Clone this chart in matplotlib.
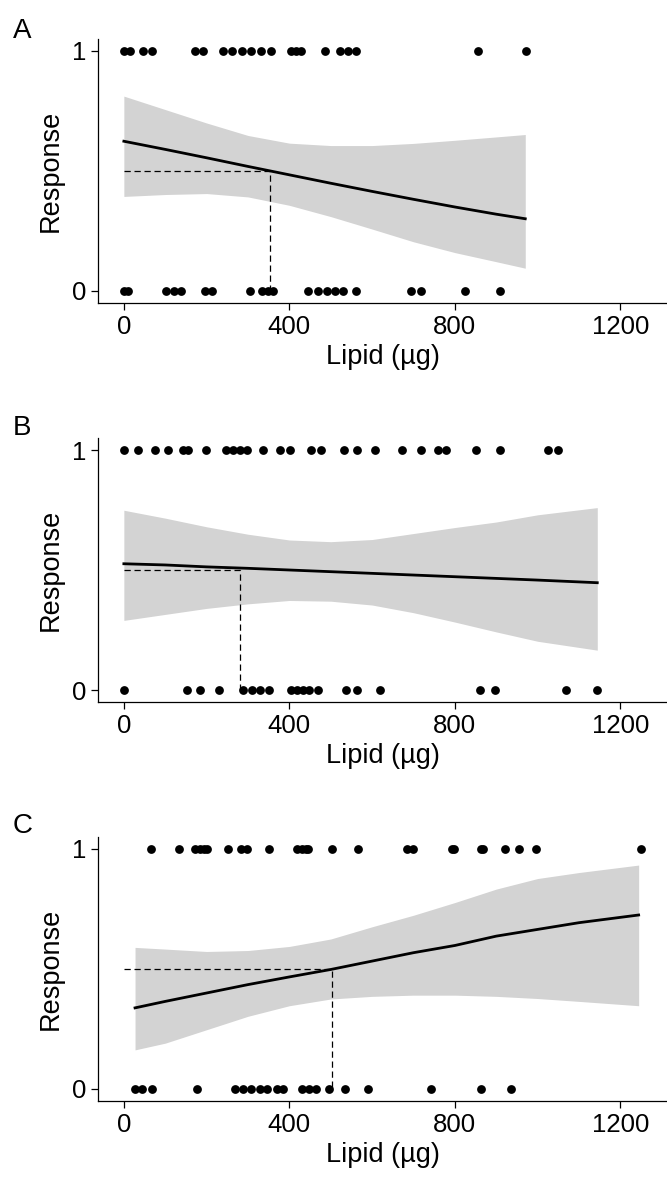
import numpy as np
import matplotlib.pyplot as plt

plt.rcParams['font.family'] = ['Liberation Sans', 'DejaVu Sans']

# ---- puntos observados (x = lipido, respuesta 0/1) ----
a_resp1 = [0, 15, 47, 68, 171, 192, 240, 262, 285, 308, 332, 355, 405, 415, 428,
           487, 522, 542, 560, 855, 972]
a_resp0 = [0, 10, 102, 120, 138, 197, 213, 306, 335, 348, 360, 444, 470, 490, 510,
           530, 560, 693, 719, 825, 908]

b_resp1 = [0, 33, 76, 107, 142, 156, 199, 247, 264, 280, 297, 336, 377, 402, 452,
           477, 533, 563, 608, 672, 717, 758, 779, 850, 908, 1024, 1050]
b_resp0 = [0, 152, 184, 230, 287, 310, 330, 350, 404, 418, 433, 448, 470, 537, 564,
           620, 861, 897, 1069, 1144]

c_resp1 = [66, 133, 173, 183, 193, 200, 252, 282, 297, 350, 418, 430, 440, 446, 503,
           566, 683, 699, 792, 798, 863, 868, 920, 955, 995, 1249]
c_resp0 = [28, 44, 67, 176, 269, 289, 308, 328, 345, 370, 385, 430, 447, 464, 495,
           535, 590, 742, 862, 936]

# ---- curva ajustada e intervalo ----
a_x = [0, 100, 200, 300, 400, 500, 600, 700, 800, 900, 970]
a_fit = [0.624, 0.590, 0.555, 0.519, 0.484, 0.449, 0.415, 0.382, 0.350, 0.320, 0.301]
a_upr = [0.812, 0.756, 0.700, 0.648, 0.616, 0.606, 0.606, 0.615, 0.628, 0.642, 0.652]
a_lwr = [0.394, 0.402, 0.406, 0.392, 0.357, 0.310, 0.258, 0.205, 0.160, 0.122, 0.095]

b_x = [0, 100, 200, 300, 400, 500, 600, 700, 800, 900, 1000, 1144]
b_fit = [0.526, 0.521, 0.513, 0.507, 0.500, 0.493, 0.486, 0.479, 0.472, 0.465, 0.458, 0.447]
b_upr = [0.749, 0.716, 0.680, 0.649, 0.625, 0.618, 0.627, 0.652, 0.677, 0.700, 0.730, 0.760]
b_lwr = [0.290, 0.315, 0.340, 0.359, 0.373, 0.370, 0.354, 0.322, 0.283, 0.242, 0.203, 0.166]

c_x = [27, 100, 200, 300, 400, 500, 600, 700, 800, 900, 1000, 1100, 1244]
c_fit = [0.338, 0.365, 0.400, 0.435, 0.467, 0.498, 0.533, 0.568, 0.598, 0.637, 0.665, 0.693, 0.725]
c_upr = [0.590, 0.583, 0.573, 0.577, 0.594, 0.625, 0.676, 0.724, 0.777, 0.833, 0.877, 0.902, 0.933]
c_lwr = [0.163, 0.191, 0.247, 0.303, 0.347, 0.375, 0.386, 0.391, 0.391, 0.386, 0.377, 0.365, 0.347]

# ---- dosis al 50 % ----
x50 = [354, 280, 502]

panel_letters = ['A', 'B', 'C']
x_ticks = [0, 400, 800, 1200]
y_ticks = [0, 1]

panels = [
    (a_resp1, a_resp0, a_x, a_fit, a_upr, a_lwr),
    (b_resp1, b_resp0, b_x, b_fit, b_upr, b_lwr),
    (c_resp1, c_resp0, c_x, c_fit, c_upr, c_lwr),
]

W, H = 667, 1178
fig = plt.figure(figsize=(W / 100, H / 100), dpi=100)

# posiciones en pixeles: (arriba) de cada eje, alto comun
ax_tops = [39, 438, 837]
ax_h = 264
ax_left, ax_right = 98, 667
letter_base = [38, 435, 833]

for i, (r1, r0, fx, fit, upr, lwr) in enumerate(panels):
    top = ax_tops[i]
    ax = fig.add_axes([ax_left / W, 1 - (top + ax_h) / H,
                       (ax_right - ax_left) / W, ax_h / H])

    ax.fill_between(fx, lwr, upr, color='#d3d3d3', lw=0, zorder=1)
    ax.plot(fx, fit, color='black', lw=2.0, zorder=3)
    ax.plot([0, x50[i], x50[i]], [0.5, 0.5, 0], color='black', lw=0.9,
            ls=(0, (5, 3)), zorder=2)

    ax.scatter(r1, np.ones(len(r1)), s=40, color='black', lw=0, zorder=4)
    ax.scatter(r0, np.zeros(len(r0)), s=40, color='black', lw=0, zorder=4)

    ax.set_xlim(-62.5, 1312.5)
    ax.set_ylim(-0.05, 1.05)
    ax.set_xticks(x_ticks)
    ax.set_yticks(y_ticks)
    ax.tick_params(labelsize=18.5, length=5, width=0.9, pad=3.5, colors='black')

    for s in ['top', 'right']:
        ax.spines[s].set_visible(False)
    for s in ['left', 'bottom']:
        ax.spines[s].set_linewidth(0.9)

    ax.set_xlabel('Lipid (µg)', fontsize=19.5, labelpad=4)
    ax.set_ylabel('Response', fontsize=19.5, labelpad=6)

    fig.text(13 / W, 1 - letter_base[i] / H, panel_letters[i], fontsize=20,
             ha='left', va='baseline')

fig.savefig('out.png', dpi=100)
